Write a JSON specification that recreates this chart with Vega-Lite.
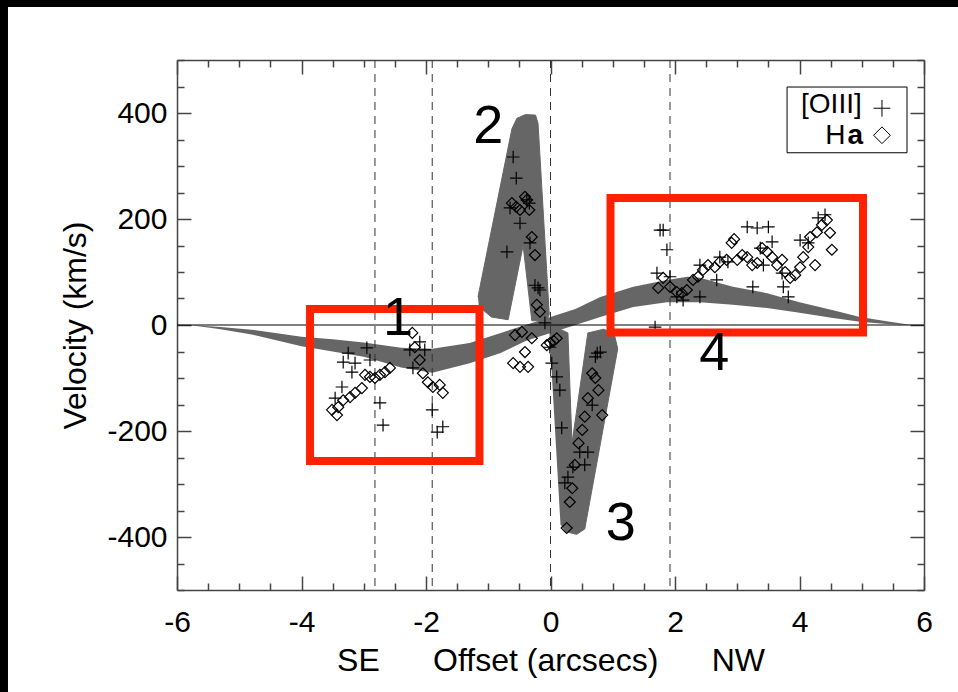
{
  "$schema": "https://vega.github.io/schema/vega-lite/v6.json",
  "width": 747,
  "height": 530,
  "autosize": {"type": "none"},
  "padding": {"left": 177, "top": 60, "right": 34, "bottom": 102},
  "background": "white",
  "config": {
    "view": {"stroke": null},
    "font": "Liberation Sans",
    "axis": {"domainColor": "#444444", "domainWidth": 1.5, "tickColor": "#444444", "tickWidth": 1.5, "grid": false, "labelFont": "Liberation Sans", "labelFontSize": 30, "labelColor": "black", "titleFont": "Liberation Sans", "titleFontSize": 32, "titleFontWeight": "normal", "titleColor": "black", "labelOverlap": false, "labelBound": false, "labelFlush": false}
  },
  "datasets": {
    "band": [
      {"x": -5.8, "top": 0, "bottom": 0},
      {"x": -5.3, "top": -4, "bottom": -8},
      {"x": -4.8, "top": -9, "bottom": -18},
      {"x": -4.0, "top": -22, "bottom": -40},
      {"x": -3.5, "top": -27, "bottom": -50},
      {"x": -3.0, "top": -33, "bottom": -60},
      {"x": -2.4, "top": -43, "bottom": -80},
      {"x": -1.9, "top": -45, "bottom": -90},
      {"x": -1.3, "top": -34, "bottom": -72},
      {"x": -0.8, "top": -15, "bottom": -53},
      {"x": -0.4, "top": 0, "bottom": -30},
      {"x": 0, "top": 15, "bottom": -15},
      {"x": 0.4, "top": 30, "bottom": 0},
      {"x": 0.8, "top": 53, "bottom": 15},
      {"x": 1.33, "top": 72, "bottom": 34},
      {"x": 1.87, "top": 85, "bottom": 43},
      {"x": 2.2, "top": 91, "bottom": 43},
      {"x": 2.4, "top": 89, "bottom": 43},
      {"x": 2.93, "top": 72, "bottom": 38},
      {"x": 3.48, "top": 60, "bottom": 32},
      {"x": 4.0, "top": 43, "bottom": 23},
      {"x": 4.54, "top": 28, "bottom": 13},
      {"x": 4.97, "top": 15, "bottom": 6},
      {"x": 5.4, "top": 7, "bottom": 2},
      {"x": 5.8, "top": 0, "bottom": 0}
    ],
    "lobes": [
      {"id": "L2", "i": 1, "x": -1.165, "v": 53},
      {"id": "L2", "i": 2, "x": -0.62, "v": 370},
      {"id": "L2", "i": 3, "x": -0.54, "v": 390},
      {"id": "L2", "i": 4, "x": -0.40, "v": 397},
      {"id": "L2", "i": 5, "x": -0.24, "v": 396},
      {"id": "L2", "i": 6, "x": -0.20, "v": 380},
      {"id": "L2", "i": 7, "x": -0.02, "v": 20},
      {"id": "L2", "i": 8, "x": -0.06, "v": 8},
      {"id": "L2", "i": 9, "x": -0.30, "v": 8},
      {"id": "L2", "i": 10, "x": -0.44, "v": 150},
      {"id": "L2", "i": 11, "x": -0.68, "v": 10},
      {"id": "L2", "i": 12, "x": -0.95, "v": 15},
      {"id": "L2", "i": 13, "x": -1.15, "v": 35},
      {"id": "L3", "i": 1, "x": -0.02, "v": -9},
      {"id": "L3", "i": 2, "x": 0.12, "v": -6},
      {"id": "L3", "i": 3, "x": 0.28, "v": -15},
      {"id": "L3", "i": 4, "x": 0.345, "v": -223},
      {"id": "L3", "i": 5, "x": 0.60, "v": -15},
      {"id": "L3", "i": 6, "x": 0.85, "v": -8},
      {"id": "L3", "i": 7, "x": 1.02, "v": -15},
      {"id": "L3", "i": 8, "x": 1.08, "v": -45},
      {"id": "L3", "i": 9, "x": 0.55, "v": -385},
      {"id": "L3", "i": 10, "x": 0.42, "v": -395},
      {"id": "L3", "i": 11, "x": 0.25, "v": -390},
      {"id": "L3", "i": 12, "x": 0.16, "v": -375}
    ],
    "vlines": [{"x": -2.82}, {"x": -1.9}, {"x": 0}, {"x": 1.92}],
    "points": [
      {"line": "[OIII]", "x": -3.25, "v": -53}, {"line": "[OIII]", "x": -2.95, "v": -43}, {"line": "[OIII]", "x": -3.33, "v": -70}, {"line": "[OIII]", "x": -3.14, "v": -72}, {"line": "[OIII]", "x": -3.19, "v": -89}, {"line": "[OIII]", "x": -2.9, "v": -66}, {"line": "[OIII]", "x": -3.35, "v": -117}, {"line": "[OIII]", "x": -3.46, "v": -138}, {"line": "[OIII]", "x": -2.74, "v": -147}, {"line": "[OIII]", "x": -2.69, "v": -189}, {"line": "[OIII]", "x": -2.21, "v": -81}, {"line": "[OIII]", "x": -2.26, "v": -47}, {"line": "[OIII]", "x": -2.1, "v": -32}, {"line": "[OIII]", "x": -2.02, "v": -47}, {"line": "[OIII]", "x": -1.9, "v": -160}, {"line": "[OIII]", "x": -1.73, "v": -192}, {"line": "[OIII]", "x": -1.82, "v": -202},
      {"line": "[OIII]", "x": -0.6, "v": 317}, {"line": "[OIII]", "x": -0.55, "v": 277}, {"line": "[OIII]", "x": -0.65, "v": 221}, {"line": "[OIII]", "x": -0.38, "v": 236}, {"line": "[OIII]", "x": -0.34, "v": 230}, {"line": "[OIII]", "x": -0.49, "v": 192}, {"line": "[OIII]", "x": -0.7, "v": 138}, {"line": "[OIII]", "x": -0.33, "v": 155}, {"line": "[OIII]", "x": -0.25, "v": 75}, {"line": "[OIII]", "x": -0.2, "v": 70}, {"line": "[OIII]", "x": -0.17, "v": 66},
      {"line": "[OIII]", "x": -0.09, "v": 4}, {"line": "[OIII]", "x": -0.01, "v": -42}, {"line": "[OIII]", "x": 0.02, "v": -72}, {"line": "[OIII]", "x": 0.1, "v": -98}, {"line": "[OIII]", "x": 0.15, "v": -123}, {"line": "[OIII]", "x": 0.75, "v": -53}, {"line": "[OIII]", "x": 0.8, "v": -51}, {"line": "[OIII]", "x": 0.72, "v": -60}, {"line": "[OIII]", "x": 0.18, "v": -194}, {"line": "[OIII]", "x": 0.67, "v": -151}, {"line": "[OIII]", "x": 0.47, "v": -240}, {"line": "[OIII]", "x": 0.6, "v": -240}, {"line": "[OIII]", "x": 0.55, "v": -264}, {"line": "[OIII]", "x": 0.36, "v": -268}, {"line": "[OIII]", "x": 0.28, "v": -287}, {"line": "[OIII]", "x": 0.23, "v": -298},
      {"line": "[OIII]", "x": 1.76, "v": 179}, {"line": "[OIII]", "x": 1.81, "v": 179}, {"line": "[OIII]", "x": 1.87, "v": 142}, {"line": "[OIII]", "x": 1.71, "v": 98}, {"line": "[OIII]", "x": 1.92, "v": 91}, {"line": "[OIII]", "x": 1.68, "v": -4}, {"line": "[OIII]", "x": 2.4, "v": 113}, {"line": "[OIII]", "x": 2.67, "v": 85}, {"line": "[OIII]", "x": 2.72, "v": 128}, {"line": "[OIII]", "x": 3.16, "v": 185}, {"line": "[OIII]", "x": 3.32, "v": 183}, {"line": "[OIII]", "x": 3.5, "v": 185}, {"line": "[OIII]", "x": 3.25, "v": 72}, {"line": "[OIII]", "x": 3.37, "v": 145}, {"line": "[OIII]", "x": 3.56, "v": 157}, {"line": "[OIII]", "x": 3.42, "v": 113}, {"line": "[OIII]", "x": 3.74, "v": 72}, {"line": "[OIII]", "x": 3.82, "v": 53}, {"line": "[OIII]", "x": 3.72, "v": 98}, {"line": "[OIII]", "x": 4.01, "v": 160}, {"line": "[OIII]", "x": 4.14, "v": 155}, {"line": "[OIII]", "x": 4.3, "v": 202}, {"line": "[OIII]", "x": 4.41, "v": 208}, {"line": "[OIII]", "x": 2.85, "v": 119}, {"line": "[OIII]", "x": 2.4, "v": 53}, {"line": "[OIII]", "x": 2.13, "v": 47}, {"line": "[OIII]", "x": 2.03, "v": 53},
      {"line": "Hα", "x": -2.22, "v": -15}, {"line": "Hα", "x": -2.18, "v": -42}, {"line": "Hα", "x": -2.1, "v": -66}, {"line": "Hα", "x": -2.05, "v": -91}, {"line": "Hα", "x": -1.97, "v": -108}, {"line": "Hα", "x": -1.89, "v": -117}, {"line": "Hα", "x": -1.78, "v": -113}, {"line": "Hα", "x": -1.73, "v": -128}, {"line": "Hα", "x": -2.58, "v": -81}, {"line": "Hα", "x": -2.66, "v": -89}, {"line": "Hα", "x": -2.74, "v": -94}, {"line": "Hα", "x": -2.82, "v": -100}, {"line": "Hα", "x": -2.9, "v": -98}, {"line": "Hα", "x": -2.98, "v": -94}, {"line": "Hα", "x": -3.03, "v": -119}, {"line": "Hα", "x": -3.14, "v": -128}, {"line": "Hα", "x": -3.22, "v": -136}, {"line": "Hα", "x": -3.33, "v": -142}, {"line": "Hα", "x": -3.41, "v": -155}, {"line": "Hα", "x": -3.51, "v": -160}, {"line": "Hα", "x": -3.43, "v": -170},
      {"line": "Hα", "x": -0.62, "v": 230}, {"line": "Hα", "x": -0.55, "v": 223}, {"line": "Hα", "x": -0.49, "v": 217}, {"line": "Hα", "x": -0.41, "v": 242}, {"line": "Hα", "x": -0.38, "v": 236}, {"line": "Hα", "x": -0.34, "v": 217}, {"line": "Hα", "x": -0.3, "v": 166}, {"line": "Hα", "x": -0.25, "v": 132}, {"line": "Hα", "x": -0.22, "v": 38}, {"line": "Hα", "x": -0.17, "v": 25},
      {"line": "Hα", "x": -0.57, "v": -19}, {"line": "Hα", "x": -0.46, "v": -13}, {"line": "Hα", "x": -0.3, "v": -25}, {"line": "Hα", "x": -0.41, "v": -51}, {"line": "Hα", "x": -0.6, "v": -72}, {"line": "Hα", "x": -0.49, "v": -79}, {"line": "Hα", "x": -0.36, "v": -79}, {"line": "Hα", "x": -0.06, "v": -38}, {"line": "Hα", "x": -0.01, "v": -34}, {"line": "Hα", "x": 0.05, "v": -30}, {"line": "Hα", "x": 0.1, "v": -25}, {"line": "Hα", "x": 0.67, "v": -91}, {"line": "Hα", "x": 0.72, "v": -100}, {"line": "Hα", "x": 0.77, "v": -123}, {"line": "Hα", "x": 0.6, "v": -138}, {"line": "Hα", "x": 0.55, "v": -173}, {"line": "Hα", "x": 0.83, "v": -170}, {"line": "Hα", "x": 0.51, "v": -198}, {"line": "Hα", "x": 0.45, "v": -223}, {"line": "Hα", "x": 0.39, "v": -264}, {"line": "Hα", "x": 0.35, "v": -308}, {"line": "Hα", "x": 0.31, "v": -334}, {"line": "Hα", "x": 0.26, "v": -383},
      {"line": "Hα", "x": 1.73, "v": 70}, {"line": "Hα", "x": 1.81, "v": 89}, {"line": "Hα", "x": 1.92, "v": 72}, {"line": "Hα", "x": 2.03, "v": 62}, {"line": "Hα", "x": 2.11, "v": 60}, {"line": "Hα", "x": 2.19, "v": 66}, {"line": "Hα", "x": 2.29, "v": 85}, {"line": "Hα", "x": 2.37, "v": 91}, {"line": "Hα", "x": 2.45, "v": 104}, {"line": "Hα", "x": 2.53, "v": 113}, {"line": "Hα", "x": 2.64, "v": 109}, {"line": "Hα", "x": 2.72, "v": 119}, {"line": "Hα", "x": 2.83, "v": 123}, {"line": "Hα", "x": 2.91, "v": 155}, {"line": "Hα", "x": 2.95, "v": 162}, {"line": "Hα", "x": 3.0, "v": 123}, {"line": "Hα", "x": 3.08, "v": 132}, {"line": "Hα", "x": 3.16, "v": 128}, {"line": "Hα", "x": 3.24, "v": 113}, {"line": "Hα", "x": 3.32, "v": 117}, {"line": "Hα", "x": 3.4, "v": 145}, {"line": "Hα", "x": 3.48, "v": 138}, {"line": "Hα", "x": 3.56, "v": 128}, {"line": "Hα", "x": 3.64, "v": 113}, {"line": "Hα", "x": 3.72, "v": 123}, {"line": "Hα", "x": 3.77, "v": 100}, {"line": "Hα", "x": 3.85, "v": 89}, {"line": "Hα", "x": 3.93, "v": 94}, {"line": "Hα", "x": 4.01, "v": 109}, {"line": "Hα", "x": 4.06, "v": 128}, {"line": "Hα", "x": 4.14, "v": 147}, {"line": "Hα", "x": 4.17, "v": 166}, {"line": "Hα", "x": 4.28, "v": 175}, {"line": "Hα", "x": 4.36, "v": 189}, {"line": "Hα", "x": 4.44, "v": 198}, {"line": "Hα", "x": 4.49, "v": 174}, {"line": "Hα", "x": 4.52, "v": 142}, {"line": "Hα", "x": 4.25, "v": 113}
    ],
    "boxes": [
      {"region": "1", "x1": -3.863, "x2": -1.141, "v1": 30.2, "v2": -256.6},
      {"region": "4", "x1": 0.964, "x2": 5.02, "v1": 239.6, "v2": -14.2}
    ],
    "numbers": [
      {"t": "1", "x": -2.45, "v": -19},
      {"t": "2", "x": -1.0, "v": 343},
      {"t": "3", "x": 1.13, "v": -406},
      {"t": "4", "x": 2.63, "v": -85}
    ]
  },
  "layer": [
    {
      "data": {"name": "band"},
      "mark": {"type": "area", "color": "#666666"},
      "encoding": {
        "x": {"field": "x", "type": "quantitative", "scale": {"domain": [-6, 6], "nice": false, "zero": false},
          "axis": {"orient": "bottom", "title": "SE\u00a0\u00a0\u00a0\u00a0\u00a0\u00a0Offset (arcsecs)\u00a0\u00a0\u00a0\u00a0\u00a0\u00a0NW", "values": [-6, -4, -2, 0, 2, 4, 6],
            "labelExpr": "'' + datum.value", "tickSize": -14, "labelPadding": 31, "titlePadding": 8}},
        "y": {"field": "top", "type": "quantitative", "scale": {"domain": [-500, 500], "nice": false, "zero": false},
          "axis": {"orient": "left", "title": "Velocity (km/s)", "values": [-400, -200, 0, 200, 400],
            "labelExpr": "'' + datum.value", "tickSize": -14, "labelPadding": 24, "titlePadding": 14}},
        "y2": {"field": "bottom"}
      }
    },
    {
      "data": {"name": "lobes"},
      "mark": {"type": "line", "fill": "#666666", "stroke": "#666666", "strokeWidth": 1},
      "encoding": {
        "x": {"field": "x", "type": "quantitative",
          "axis": {"orient": "bottom", "title": null, "labels": false, "domain": false, "tickSize": -7, "values": [-5.5, -5, -4.5, -3.5, -3, -2.5, -1.5, -1, -0.5, 0.5, 1, 1.5, 2.5, 3, 3.5, 4.5, 5, 5.5]}},
        "y": {"field": "v", "type": "quantitative",
          "axis": {"orient": "left", "title": null, "labels": false, "domain": false, "tickSize": -7, "values": [-500, -450, -350, -300, -250, -150, -100, -50, 50, 100, 150, 250, 300, 350, 450, 500]}},
        "order": {"field": "i", "type": "quantitative"},
        "detail": {"field": "id", "type": "nominal"}
      }
    },
    {
      "data": {"name": "vlines"},
      "mark": {"type": "rule", "color": "#333333", "strokeWidth": 1, "strokeDash": [8, 6]},
      "encoding": {"x": {"field": "x", "type": "quantitative", "axis": null}}
    },
    {
      "data": {"values": [{}]},
      "mark": {"type": "rule", "color": "black", "strokeWidth": 1},
      "encoding": {"y": {"datum": 0, "type": "quantitative", "axis": null}}
    },
    {
      "data": {"name": "points"},
      "mark": {"type": "point", "filled": false, "color": "black", "strokeWidth": 1.2, "opacity": 1},
      "encoding": {
        "x": {"field": "x", "type": "quantitative",
          "axis": {"orient": "top", "title": null, "labels": false, "tickSize": -14, "values": [-6, -4, -2, 0, 2, 4, 6]}},
        "y": {"field": "v", "type": "quantitative",
          "axis": {"orient": "right", "title": null, "labels": false, "tickSize": -14, "values": [-400, -200, 0, 200, 400]}},
        "shape": {"field": "line", "type": "nominal", "scale": {"domain": ["[OIII]", "Hα"], "range": ["M-1,0L1,0M0,-1L0,1", "diamond"]}, "legend": null},
        "size": {"field": "line", "type": "nominal", "scale": {"domain": ["[OIII]", "Hα"], "range": [160, 121]}, "legend": null}
      }
    },
    {
      "data": {"name": "boxes"},
      "mark": {"type": "rect", "filled": false, "color": "#ff2200", "strokeWidth": 8},
      "encoding": {
        "x": {"field": "x1", "type": "quantitative",
          "axis": {"orient": "top", "title": null, "labels": false, "domain": false, "tickSize": -7, "values": [-5.5, -5, -4.5, -3.5, -3, -2.5, -1.5, -1, -0.5, 0.5, 1, 1.5, 2.5, 3, 3.5, 4.5, 5, 5.5]}},
        "x2": {"field": "x2"},
        "y": {"field": "v1", "type": "quantitative",
          "axis": {"orient": "right", "title": null, "labels": false, "domain": false, "tickSize": -7, "values": [-500, -450, -350, -300, -250, -150, -100, -50, 50, 100, 150, 250, 300, 350, 450, 500]}},
        "y2": {"field": "v2"}
      }
    },
    {
      "data": {"name": "numbers"},
      "mark": {"type": "text", "fontSize": 54, "font": "Liberation Sans", "align": "center", "baseline": "alphabetic", "color": "black"},
      "encoding": {
        "x": {"field": "x", "type": "quantitative", "axis": null},
        "y": {"field": "v", "type": "quantitative", "axis": null},
        "text": {"field": "t"}
      }
    },
    {
      "data": {"values": [{}]},
      "mark": {"type": "rect", "filled": false, "color": "black", "strokeWidth": 1},
      "encoding": {
        "x": {"datum": 3.8, "type": "quantitative", "axis": null},
        "x2": {"datum": 5.727},
        "y": {"datum": 449, "type": "quantitative", "axis": null},
        "y2": {"datum": 325}
      }
    },
    {
      "data": {"values": [{"label": "[OIII]"}]},
      "mark": {"type": "text", "fontSize": 28, "align": "right", "baseline": "alphabetic", "color": "black"},
      "encoding": {
        "x": {"datum": 5.0, "type": "quantitative", "axis": null},
        "y": {"datum": 400, "type": "quantitative", "axis": null},
        "text": {"field": "label"}
      }
    },
    {
      "data": {"values": [{"label": "H"}]},
      "mark": {"type": "text", "fontSize": 28, "align": "right", "baseline": "alphabetic", "color": "black"},
      "encoding": {
        "x": {"datum": 4.74, "type": "quantitative", "axis": null},
        "y": {"datum": 342, "type": "quantitative", "axis": null},
        "text": {"field": "label"}
      }
    },
    {
      "data": {"values": [{"label": "a"}]},
      "mark": {"type": "text", "fontSize": 28, "fontWeight": "bold", "align": "left", "baseline": "alphabetic", "color": "black"},
      "encoding": {
        "x": {"datum": 4.77, "type": "quantitative", "axis": null},
        "y": {"datum": 342, "type": "quantitative", "axis": null},
        "text": {"field": "label"}
      }
    },
    {
      "data": {"values": [{"line": "[OIII]", "lx": 5.325, "lv": 409}, {"line": "Hα", "lx": 5.325, "lv": 358}]},
      "mark": {"type": "point", "filled": false, "color": "black", "strokeWidth": 1, "opacity": 1, "size": 280},
      "encoding": {
        "x": {"field": "lx", "type": "quantitative", "axis": null},
        "y": {"field": "lv", "type": "quantitative", "axis": null},
        "shape": {"field": "line", "type": "nominal", "legend": null}
      }
    },
    {
      "data": {"values": [{}]},
      "mark": {"type": "rect", "color": "black"},
      "encoding": {
        "x": {"datum": -12, "type": "quantitative", "axis": null},
        "x2": {"datum": 12},
        "y": {"datum": 600, "type": "quantitative", "axis": null},
        "y2": {"datum": 700}
      }
    },
    {
      "data": {"values": [{}]},
      "mark": {"type": "rect", "color": "black"},
      "encoding": {
        "x": {"datum": -12, "type": "quantitative", "axis": null},
        "x2": {"datum": -8.715},
        "y": {"datum": -900, "type": "quantitative", "axis": null},
        "y2": {"datum": 700}
      }
    }
  ],
  "resolve": {"axis": {"x": "independent", "y": "independent"}}
}
